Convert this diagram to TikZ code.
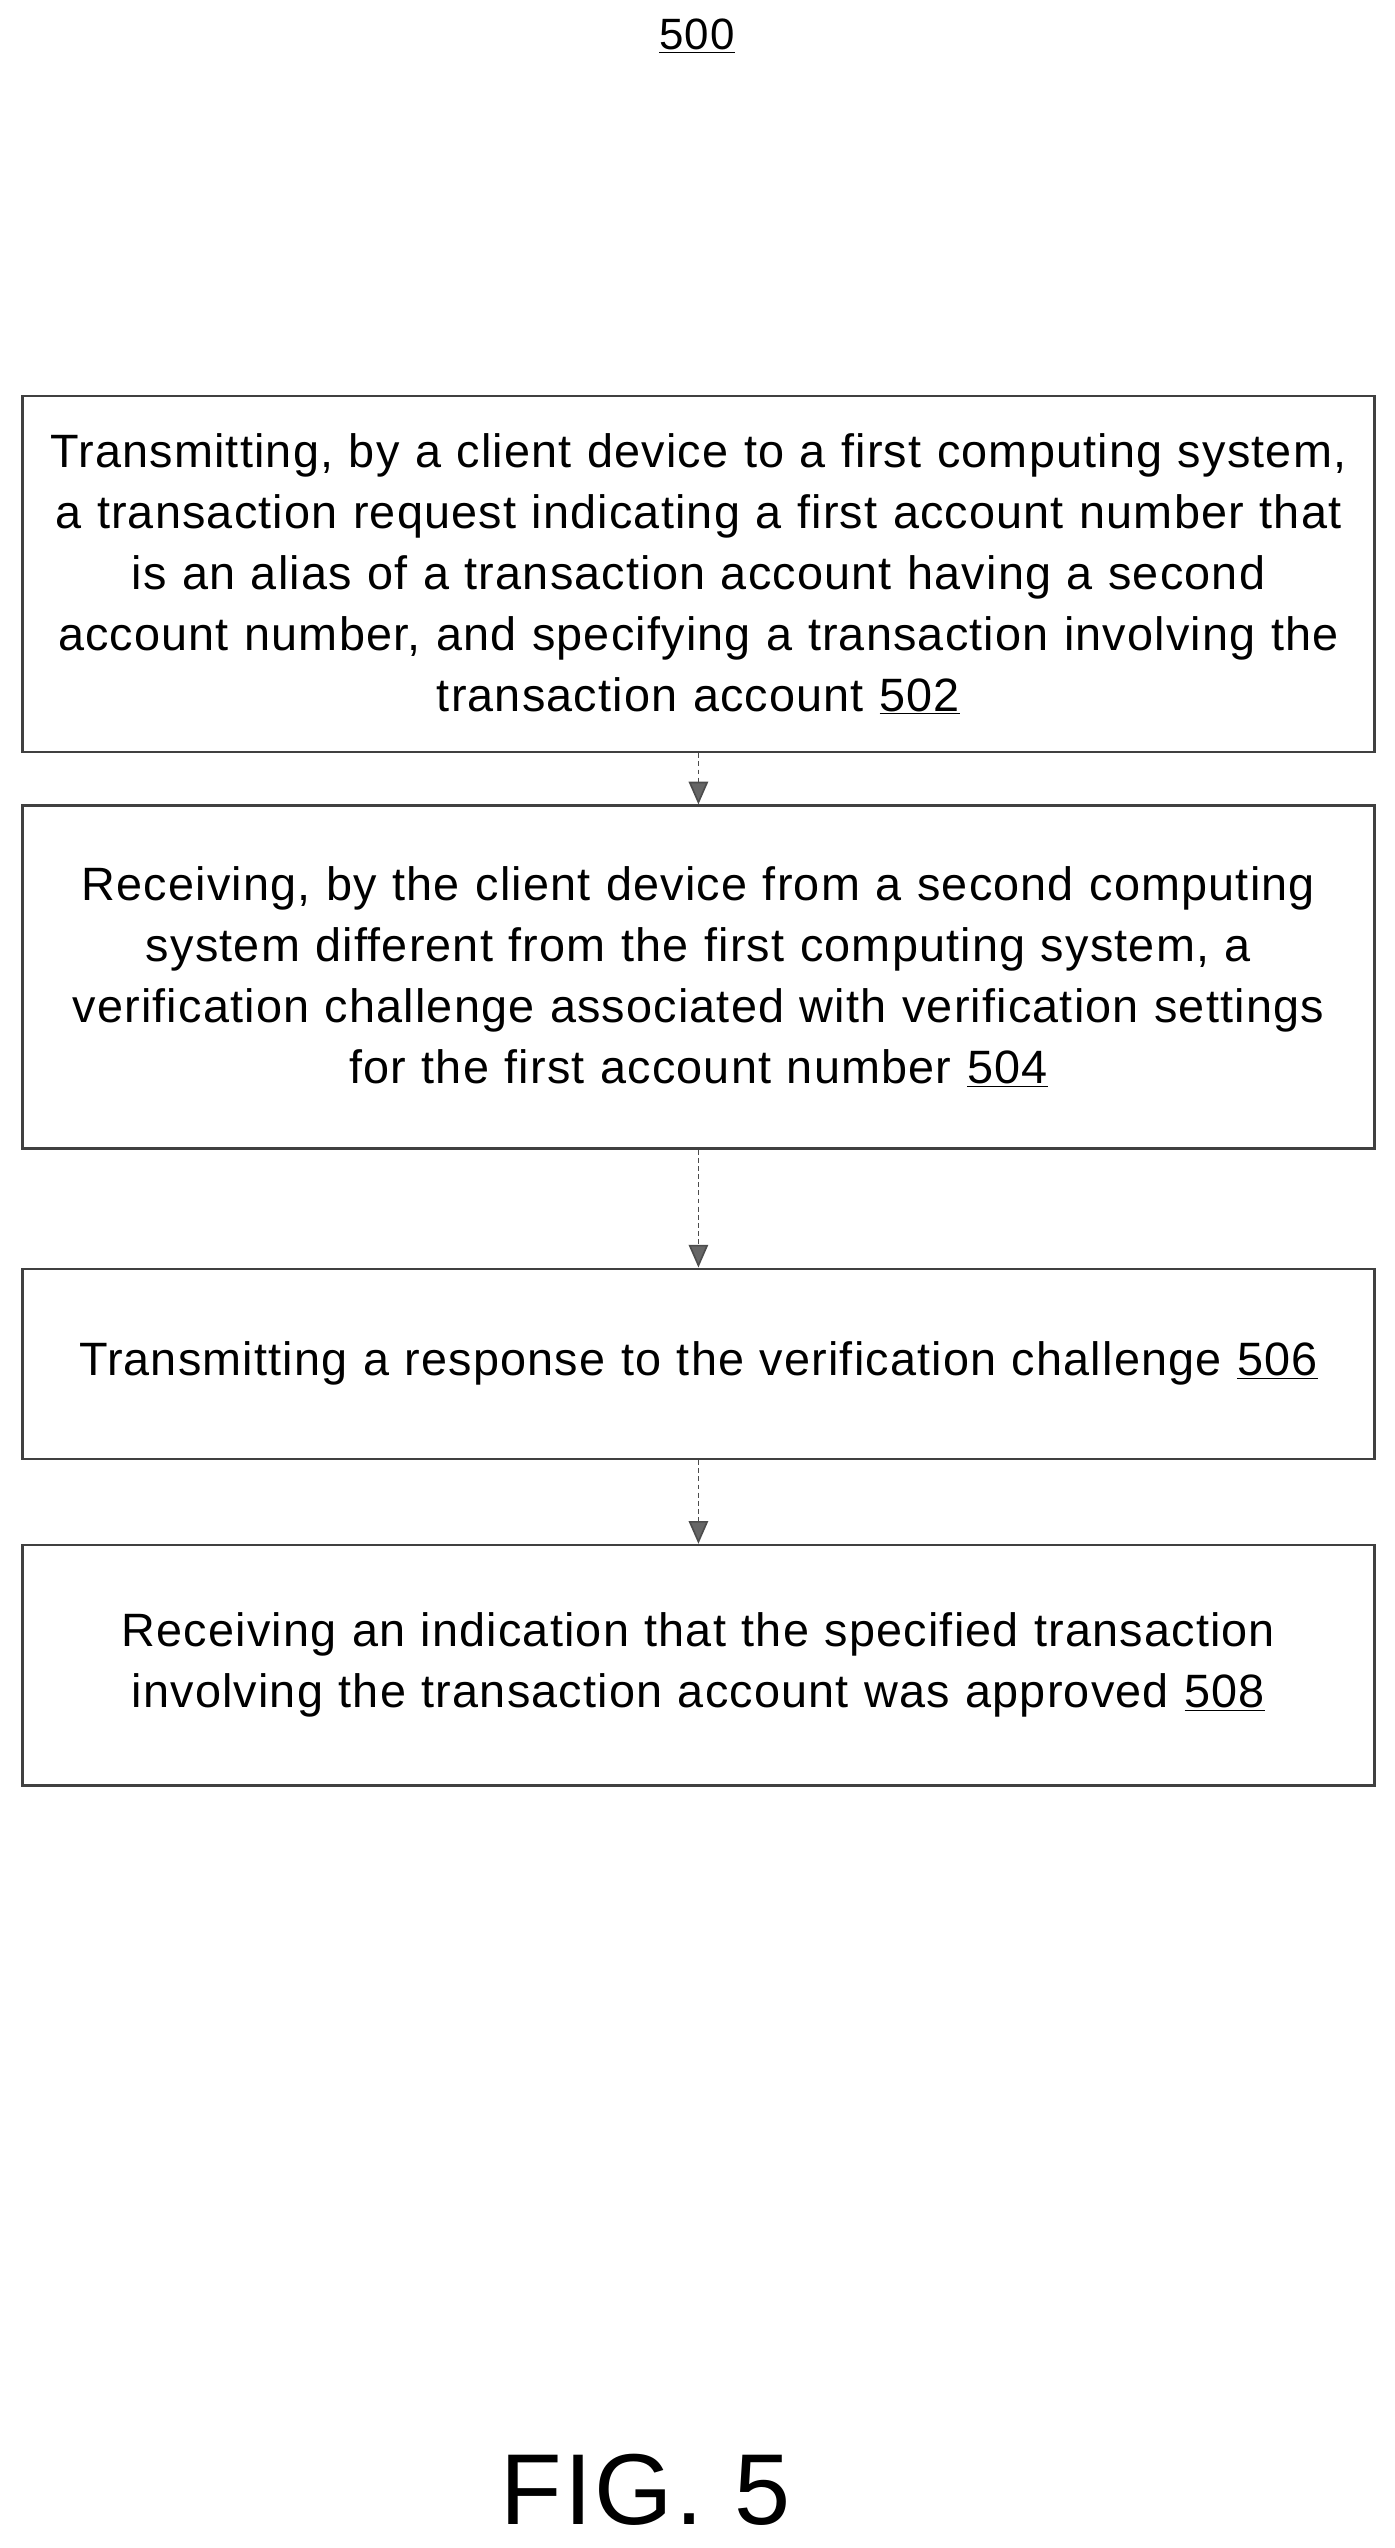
\documentclass[tikz,border=0pt]{standalone}
\usepackage{fontspec}
\setmainfont{Liberation Sans}[LetterSpace=2.5]
\usetikzlibrary{arrows.meta}
\begin{document}
\begin{tikzpicture}[x=1pt,y=-1pt,
  box/.style={draw=black!75,line width=1.6pt,minimum width=832pt,text width=830pt,align=center,inner sep=0pt,font=\fontsize{28.8}{37.5}\selectfont,anchor=north west},
  arr/.style={draw=black!70,line width=1pt,densely dashed,-{Triangle[length=14pt,width=12pt,fill=black!60]}}]
\useasboundingbox (0,0) rectangle (858,1568);
\node[font=\fontsize{27}{30}\selectfont] (t) at (429,22) {\underline{500}};
\node[box,minimum height=219pt] (b1) at (13,243) {Transmitting, by a client device to a first computing system,\\ a transaction request indicating a first account number that\\ is an alias of a transaction account having a second\\ account number, and specifying a transaction involving the\\ transaction account \underline{502}};
\node[box,minimum height=211pt] (b2) at (13,495) {Receiving, by the client device from a second computing\\ system different from the first computing system, a\\ verification challenge associated with verification settings\\ for the first account number \underline{504}};
\node[box,minimum height=117pt] (b3) at (13,780) {Transmitting a response to the verification challenge \underline{506}};
\node[box,minimum height=148pt] (b4) at (13,950) {Receiving an indication that the specified transaction\\ involving the transaction account was approved \underline{508}};
\draw[arr] (b1.south) -- (b2.north);
\draw[arr] (b2.south) -- (b3.north);
\draw[arr] (b3.south) -- (b4.north);
\node[font=\fontsize{62}{70}\selectfont] (f) at (397,1532) {FIG. 5};
\end{tikzpicture}
\end{document}
